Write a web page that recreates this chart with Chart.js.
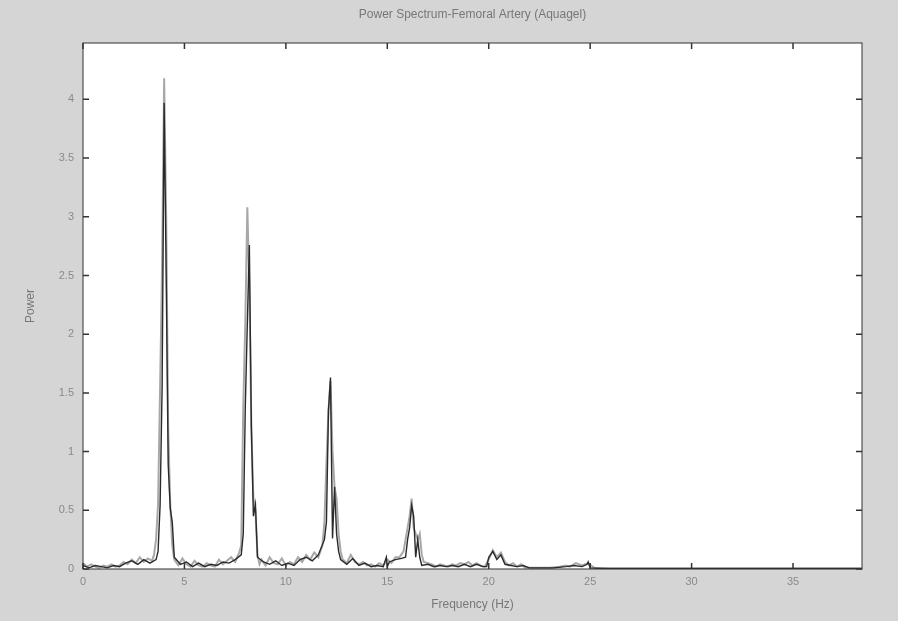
<!DOCTYPE html>
<html>
<head>
<meta charset="utf-8">
<script src="https://cdn.jsdelivr.net/npm/chart.js@4"></script>
<style>
  html, body { margin: 0; padding: 0; background: #d5d5d5; }
  #wrap { width: 898px; height: 621px; }
</style>
</head>
<body>
<div id="wrap"><canvas id="spectrum"></canvas></div>
<script>
// light trace (Hz / power)
var freqLight = [0, 0.2, 0.4, 0.6, 0.8, 1.0, 1.2, 1.4, 1.6, 1.8, 2.0, 2.2, 2.4, 2.6, 2.8, 3.0, 3.2, 3.4, 3.5, 3.6, 3.7, 3.8, 3.9, 4.0, 4.1, 4.2, 4.3, 4.4, 4.5,
  4.7, 4.9, 5.1, 5.3, 5.5, 5.7, 5.9, 6.1, 6.3, 6.5, 6.7, 6.9, 7.1, 7.3, 7.5, 7.6, 7.7, 7.8, 7.9, 8.0, 8.1, 8.2, 8.3, 8.4, 8.5, 8.6, 8.7, 8.8,
  9.0, 9.2, 9.4, 9.6, 9.8, 10.0, 10.2, 10.4, 10.6, 10.8, 11.0, 11.2, 11.4, 11.6, 11.8, 11.9, 12.0, 12.1, 12.2, 12.3, 12.4, 12.5, 12.6, 12.7, 12.8,
  13.0, 13.2, 13.4, 13.6, 13.8, 14.0, 14.2, 14.4, 14.6, 14.8, 15.0, 15.2, 15.4, 15.6, 15.8, 15.9, 16.0, 16.1, 16.2, 16.3, 16.4, 16.5, 16.6, 16.7, 16.8,
  17.0, 17.2, 17.4, 17.6, 17.8, 18.0, 18.2, 18.4, 18.6, 18.8, 19.0, 19.2, 19.4, 19.6, 19.8, 20.0, 20.2, 20.4, 20.6, 20.8, 21.0, 21.2, 21.4, 21.6, 21.8,
  22.0, 22.5, 23.0, 23.5, 23.8, 24.0, 24.3, 24.6, 24.9, 25.2, 26, 28, 30, 32, 34, 36, 38.4];
var powerLight = [0.05, 0.02, 0.04, 0.02, 0.01, 0.03, 0.02, 0.04, 0.02, 0.03, 0.06, 0.04, 0.08, 0.05, 0.10, 0.06, 0.09, 0.07, 0.12, 0.25, 0.55, 1.55, 2.6, 4.18, 3.0, 1.2, 0.55, 0.2, 0.08,
  0.03, 0.09, 0.04, 0.02, 0.07, 0.03, 0.02, 0.05, 0.03, 0.02, 0.08, 0.04, 0.07, 0.10, 0.06, 0.10, 0.14, 0.2, 1.38, 2.1, 3.08, 2.4, 1.2, 0.6, 0.5, 0.12, 0.04, 0.08,
  0.03, 0.10, 0.05, 0.04, 0.09, 0.03, 0.06, 0.04, 0.10, 0.06, 0.12, 0.08, 0.14, 0.10, 0.2, 0.4, 0.9, 1.35, 1.6, 1.0, 0.7, 0.6, 0.3, 0.15, 0.08,
  0.05, 0.12, 0.06, 0.04, 0.06, 0.03, 0.04, 0.02, 0.05, 0.03, 0.08, 0.05, 0.10, 0.10, 0.15, 0.25, 0.35, 0.45, 0.6, 0.35, 0.3, 0.25, 0.3, 0.12, 0.06,
  0.05, 0.04, 0.02, 0.04, 0.03, 0.02, 0.04, 0.03, 0.05, 0.04, 0.06, 0.03, 0.05, 0.03, 0.02, 0.08, 0.16, 0.10, 0.14, 0.06, 0.03, 0.05, 0.02, 0.04, 0.01,
  0.01, 0.01, 0.01, 0.02, 0.03, 0.02, 0.05, 0.03, 0.05, 0.01, 0.005, 0.005, 0.005, 0.005, 0.005, 0.005, 0.005];

// dark trace
var freqDark = [0, 0.3, 0.6, 0.9, 1.2, 1.5, 1.8, 2.1, 2.4, 2.7, 3.0, 3.3, 3.6, 3.7, 3.8, 3.9, 4.0, 4.1, 4.2, 4.3, 4.4, 4.5,
  4.8, 5.1, 5.4, 5.7, 6.0, 6.3, 6.6, 6.9, 7.2, 7.5, 7.8, 7.9, 8.0, 8.1, 8.2, 8.3, 8.4, 8.5, 8.6,
  8.9, 9.2, 9.5, 9.8, 10.1, 10.4, 10.7, 11.0, 11.3, 11.6, 11.9, 12.0, 12.1, 12.2, 12.3, 12.4, 12.5, 12.6, 12.7,
  13.0, 13.3, 13.6, 13.9, 14.2, 14.5, 14.8, 14.95, 15.0, 15.1, 15.4, 15.7, 15.9, 16.0, 16.1, 16.2, 16.3, 16.4, 16.5, 16.6, 16.7,
  17.0, 17.3, 17.6, 17.9, 18.2, 18.5, 18.8, 19.1, 19.4, 19.7, 19.9, 20.0, 20.2, 20.4, 20.6, 20.8,
  21.1, 21.4, 21.7, 22.0, 22.6, 23.2, 23.8, 24.2, 24.6, 24.85, 24.9, 25.0, 25.5, 27, 29, 31, 33, 35, 37, 38.4];
var powerDark = [0.03, 0.01, 0.03, 0.02, 0.01, 0.03, 0.02, 0.05, 0.07, 0.04, 0.08, 0.05, 0.08, 0.15, 0.54, 1.55, 3.97, 2.52, 0.89, 0.52, 0.4, 0.1,
  0.04, 0.06, 0.02, 0.05, 0.02, 0.04, 0.03, 0.06, 0.05, 0.08, 0.12, 0.3, 1.38, 2.09, 2.76, 1.2, 0.45, 0.55, 0.1,
  0.06, 0.04, 0.07, 0.03, 0.05, 0.03, 0.08, 0.1, 0.07, 0.12, 0.25, 0.4, 1.35, 1.63, 0.26, 0.7, 0.3, 0.15, 0.08,
  0.04, 0.09, 0.03, 0.05, 0.02, 0.03, 0.02, 0.1, 0.02, 0.06, 0.08, 0.09, 0.1, 0.25, 0.35, 0.54, 0.45, 0.1, 0.25, 0.1, 0.03,
  0.04, 0.02, 0.03, 0.02, 0.03, 0.02, 0.04, 0.02, 0.04, 0.02, 0.02, 0.1, 0.15, 0.08, 0.12, 0.04,
  0.03, 0.02, 0.03, 0.01, 0.01, 0.01, 0.02, 0.03, 0.02, 0.04, 0.06, 0.01, 0.005, 0.005, 0.005, 0.005, 0.005, 0.005, 0.005, 0.005];

var xTicks = [0, 5, 10, 15, 20, 25, 30, 35];
var yTicks = [0, 0.5, 1, 1.5, 2, 2.5, 3, 3.5, 4];

function toPoints(xs, ys) {
  return xs.map(function (x, i) { return { x: x, y: ys[i] }; });
}

// white plot area, frame and inward MATLAB-style ticks
var framePlugin = {
  id: 'frame',
  beforeDraw: function (chart) {
    var c = chart.ctx, a = chart.chartArea;
    c.save();
    c.fillStyle = '#d5d5d5';
    c.fillRect(0, 0, chart.width, chart.height);
    c.fillStyle = '#ffffff';
    c.fillRect(a.left, a.top, a.right - a.left, a.bottom - a.top);
    c.restore();
  },
  afterDatasetsDraw: function (chart) {
    var c = chart.ctx, a = chart.chartArea;
    var xs = chart.scales.x, ys = chart.scales.y;
    c.save();
    c.strokeStyle = '#333';
    c.lineWidth = 1;
    c.strokeRect(a.left, a.top, a.right - a.left, a.bottom - a.top);
    c.lineWidth = 1.5;
    c.beginPath();
    xTicks.forEach(function (v) {
      var px = xs.getPixelForValue(v);
      c.moveTo(px, a.bottom); c.lineTo(px, a.bottom - 6);
      c.moveTo(px, a.top); c.lineTo(px, a.top + 6);
    });
    yTicks.forEach(function (v) {
      var py = ys.getPixelForValue(v);
      c.moveTo(a.left, py); c.lineTo(a.left + 6, py);
      c.moveTo(a.right, py); c.lineTo(a.right - 6, py);
    });
    c.stroke();
    c.restore();
  }
};

var ctx = document.getElementById('spectrum').getContext('2d');
new Chart(ctx, {
  type: 'scatter',
  data: {
    datasets: [{
      label: 'light',
      data: toPoints(freqLight, powerLight),
      showLine: true,
      borderColor: '#a8a8a8',
      borderWidth: 2,
      pointRadius: 0,
      order: 2
    }, {
      label: 'dark',
      data: toPoints(freqDark, powerDark),
      showLine: true,
      borderColor: '#2a2a2a',
      borderWidth: 1.4,
      pointRadius: 0,
      order: 1
    }]
  },
  options: {
    responsive: true,
    maintainAspectRatio: false,
    animation: false,
    layout: { padding: { left: 0, right: 36, top: 0, bottom: 0 } },
    plugins: {
      legend: { display: false },
      tooltip: { enabled: false },
      title: {
        display: true,
        fullSize: false,
        text: 'Power Spectrum-Femoral Artery (Aquagel)',
        color: '#777',
        font: { family: 'Liberation Sans', size: 12, weight: 'normal' },
        padding: { top: 7, bottom: 21.6 }
      }
    },
    scales: {
      x: {
        type: 'linear',
        min: 0,
        max: 38.4,
        afterFit: function (s) { s.height = 52; },
        grid: { display: false, drawTicks: false },
        border: { display: false },
        ticks: {
          stepSize: 5,
          includeBounds: false,
          padding: 6,
          color: '#8a8a8a',
          font: { family: 'Liberation Sans', size: 11 }
        },
        title: {
          display: true,
          text: 'Frequency (Hz)',
          color: '#777',
          font: { family: 'Liberation Sans', size: 12 },
          padding: { top: 0, bottom: 9 }
        }
      },
      y: {
        type: 'linear',
        min: 0,
        max: 4.48,
        afterFit: function (s) { s.width = 83; },
        grid: { display: false, drawTicks: false },
        border: { display: false },
        ticks: {
          stepSize: 0.5,
          includeBounds: false,
          padding: 9,
          color: '#8a8a8a',
          font: { family: 'Liberation Sans', size: 11 },
          callback: function (v) { return String(v); }
        },
        title: {
          display: true,
          text: 'Power',
          color: '#777',
          font: { family: 'Liberation Sans', size: 12 },
          padding: { top: 23, bottom: 0 }
        }
      }
    }
  },
  plugins: [framePlugin]
});
</script>
</body>
</html>
